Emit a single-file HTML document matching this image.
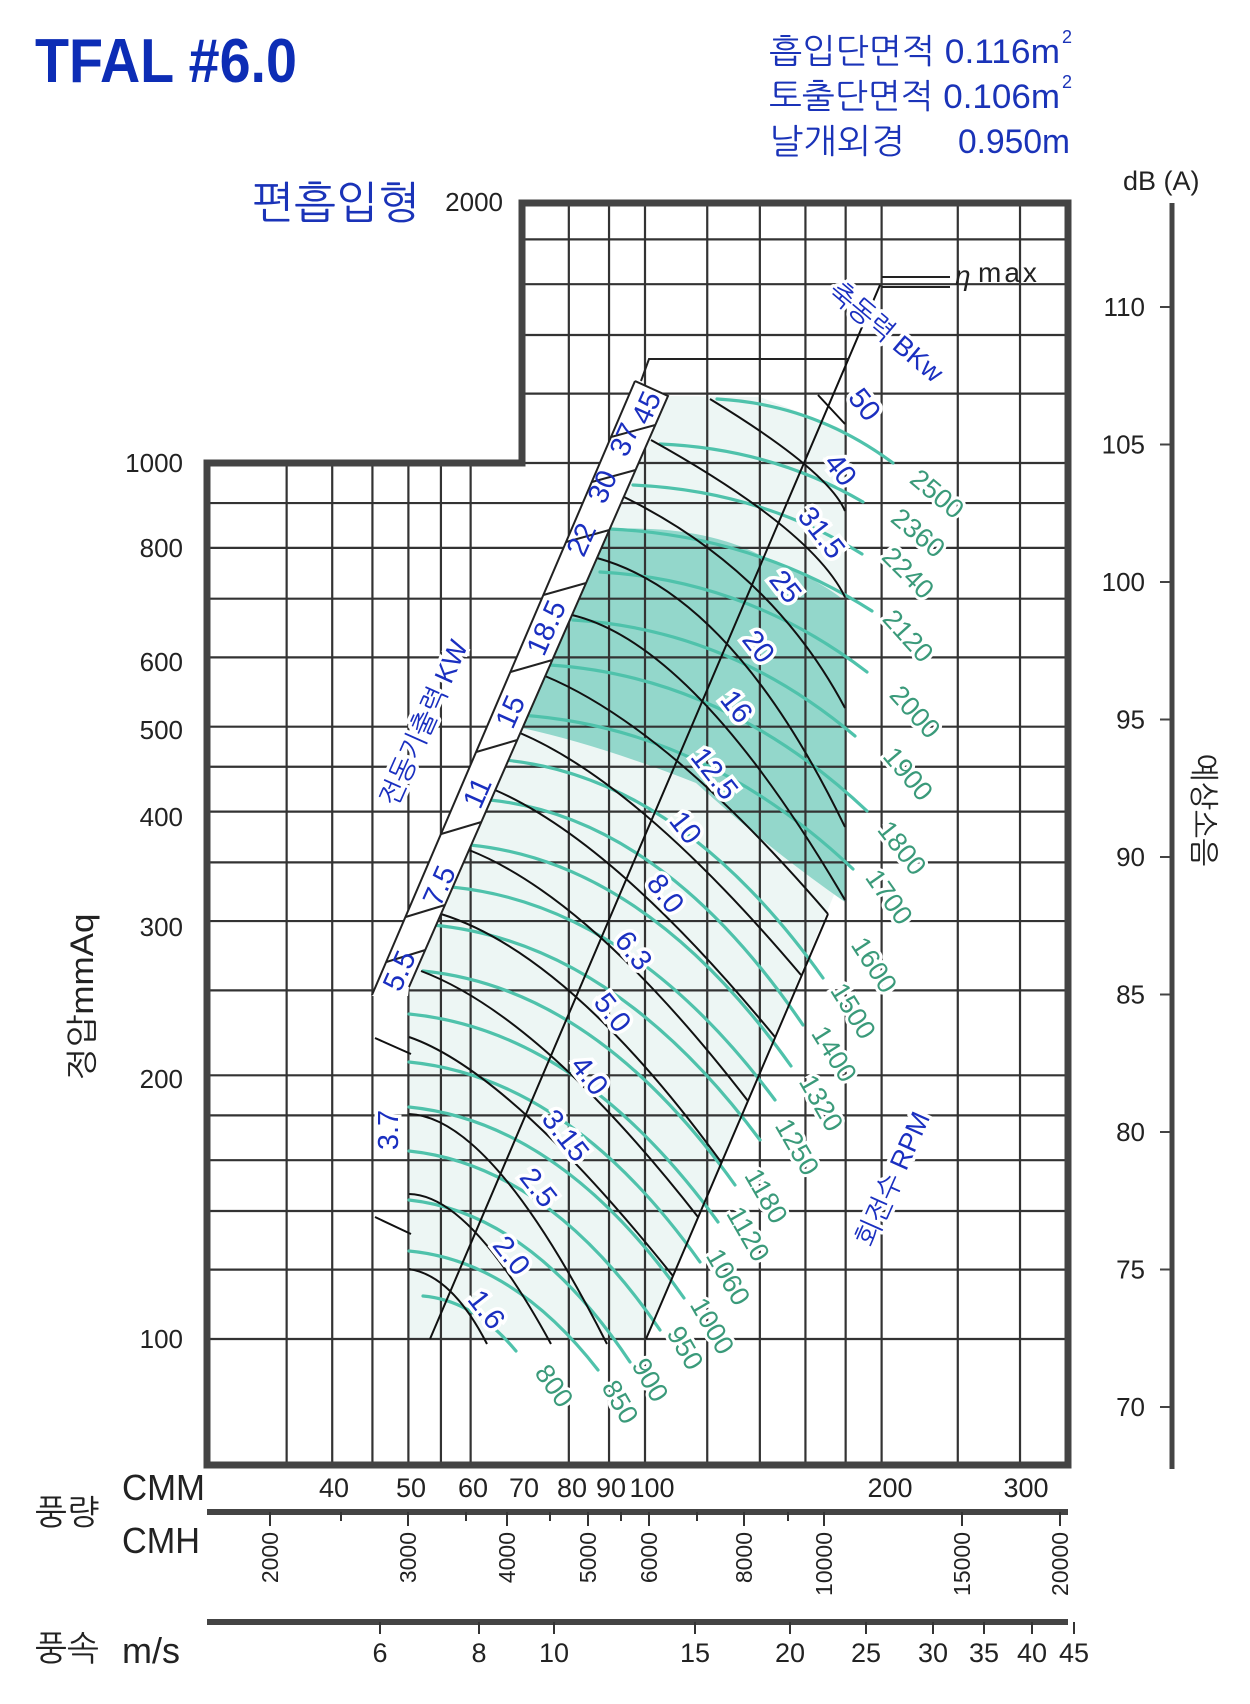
<!DOCTYPE html>
<html><head><meta charset="utf-8"><style>
html,body{margin:0;padding:0;background:#fff;}
svg{display:block;}
text{font-family:"Liberation Sans","NanumGothic","Noto Sans CJK KR",sans-serif;}
</style></head><body>
<svg id="s" width="1250" height="1704" viewBox="0 0 1250 1704" xmlns="http://www.w3.org/2000/svg">
<rect width="1250" height="1704" fill="#fff"/>
<g id="fills"></g>
<g id="grid"></g>
<g id="curves"></g>
<g id="band"></g>
<path d="M207,1465 V463 H522 V203 H1068 V1465 Z" fill="none" stroke="#444" stroke-width="7"/>
<path d="M882,277 H950 M882,287 H950" stroke="#222" stroke-width="2"/>
<text x="955" y="285" font-size="28" fill="#222" font-family="Liberation Serif,serif" font-style="italic">η</text>
<text x="978" y="282" font-size="28" fill="#222" letter-spacing="3">max</text>

<text x="35" y="82" font-size="62" font-weight="bold" fill="#0d2db5" textLength="262" lengthAdjust="spacingAndGlyphs">TFAL #6.0</text>
<text x="769" y="63" font-size="34" fill="#1a33b8" textLength="291" lengthAdjust="spacingAndGlyphs">흡입단면적 0.116m</text>
<text x="1062" y="43" font-size="18" fill="#1a33b8">2</text>
<text x="769" y="108" font-size="34" fill="#1a33b8" textLength="291" lengthAdjust="spacingAndGlyphs">토출단면적 0.106m</text>
<text x="1062" y="88" font-size="18" fill="#1a33b8">2</text>
<text x="769" y="153" font-size="34" fill="#1a33b8" textLength="136" lengthAdjust="spacingAndGlyphs">날개외경</text>
<text x="958" y="153" font-size="34" fill="#1a33b8" textLength="112" lengthAdjust="spacingAndGlyphs">0.950m</text>
<text x="252" y="218" font-size="44" fill="#1a33b8" textLength="168" lengthAdjust="spacingAndGlyphs">편흡입형</text>

<g font-size="26" fill="#222" text-anchor="end">
<text x="503" y="211">2000</text>
<text x="183" y="472">1000</text>
<text x="183" y="557">800</text>
<text x="183" y="671">600</text>
<text x="183" y="739">500</text>
<text x="183" y="826">400</text>
<text x="183" y="936">300</text>
<text x="183" y="1088">200</text>
<text x="183" y="1348">100</text>
</g>
<text transform="translate(82,997) rotate(-90)" text-anchor="middle" dominant-baseline="central" font-size="32" fill="#222" textLength="167" lengthAdjust="spacingAndGlyphs">정압mmAq</text>

<line x1="1172" y1="203" x2="1172" y2="1469" stroke="#444" stroke-width="5"/>
<g id="db" font-size="26" fill="#222" text-anchor="end"></g>
<text x="1123" y="190" font-size="27" fill="#222">dB (A)</text>
<text transform="translate(1203,810) rotate(90)" text-anchor="middle" dominant-baseline="central" font-size="30" fill="#222">예상소음</text>

<line x1="207" y1="1512" x2="1068" y2="1512" stroke="#444" stroke-width="6"/>
<line x1="207" y1="1622" x2="1068" y2="1622" stroke="#444" stroke-width="6"/>
<g font-size="27" fill="#222" text-anchor="middle">
<text x="334" y="1497">40</text><text x="411" y="1497">50</text><text x="473" y="1497">60</text>
<text x="524" y="1497">70</text><text x="572" y="1497">80</text><text x="611" y="1497">90</text>
<text x="652" y="1497">100</text><text x="890" y="1497">200</text><text x="1026" y="1497">300</text>
</g>
<g font-size="23" fill="#222" text-anchor="end">
<text transform="translate(270,1532) rotate(-90)" dominant-baseline="central">2000</text>
<text transform="translate(408,1532) rotate(-90)" dominant-baseline="central">3000</text>
<text transform="translate(507,1532) rotate(-90)" dominant-baseline="central">4000</text>
<text transform="translate(588,1532) rotate(-90)" dominant-baseline="central">5000</text>
<text transform="translate(649,1532) rotate(-90)" dominant-baseline="central">6000</text>
<text transform="translate(744,1532) rotate(-90)" dominant-baseline="central">8000</text>
<text transform="translate(824,1532) rotate(-90)" dominant-baseline="central">10000</text>
<text transform="translate(962,1532) rotate(-90)" dominant-baseline="central">15000</text>
<text transform="translate(1060,1532) rotate(-90)" dominant-baseline="central">20000</text>
</g>
<g font-size="27" fill="#222" text-anchor="middle">
<text x="380" y="1662">6</text><text x="479" y="1662">8</text><text x="554" y="1662">10</text>
<text x="695" y="1662">15</text><text x="790" y="1662">20</text><text x="866" y="1662">25</text>
<text x="933" y="1662">30</text><text x="984" y="1662">35</text><text x="1032" y="1662">40</text><text x="1074" y="1662">45</text>
</g>
<g id="bt"></g>
<text x="122" y="1500" font-size="36" fill="#222" textLength="83" lengthAdjust="spacingAndGlyphs">CMM</text>
<text x="122" y="1553" font-size="36" fill="#222" textLength="78" lengthAdjust="spacingAndGlyphs">CMH</text>
<text x="122" y="1663" font-size="36" fill="#222" textLength="58" lengthAdjust="spacingAndGlyphs">m/s</text>
<text x="67" y="1513" text-anchor="middle" dominant-baseline="central" font-size="34" fill="#222">풍량</text>
<text x="67" y="1649" text-anchor="middle" dominant-baseline="central" font-size="34" fill="#222">풍속</text>

<g font-size="29" fill="#1a2fc0" text-anchor="middle" dominant-baseline="central">
<text transform="translate(400,971) rotate(-66)">5.5</text>
<text transform="translate(440,886) rotate(-66)">7.5</text>
<text transform="translate(478,793) rotate(-66)">11</text>
<text transform="translate(511,712) rotate(-66)">15</text>
<text transform="translate(547,628) rotate(-66)">18.5</text>
<text transform="translate(582,540) rotate(-66)">22</text>
<text transform="translate(603,487) rotate(-66)">30</text>
<text transform="translate(625,440) rotate(-66)">37</text>
<text transform="translate(647,408) rotate(-66)">45</text>
</g>
<g font-size="29" fill="#1a2fc0" text-anchor="middle" dominant-baseline="central" stroke="#fff" stroke-width="7" paint-order="stroke">
<text transform="translate(389,1130) rotate(-90)">3.7</text>
<text transform="translate(424,723) rotate(-66)" font-size="27">전동기출력 KW</text>
<text transform="translate(886,332) rotate(40)" font-size="27">축동력 BKw</text>
<text transform="translate(893,1179) rotate(-66)" font-size="27">회전수 RPM</text>
<text transform="translate(864,405) rotate(52)">50</text>
<text transform="translate(840,470) rotate(52)">40</text>
<text transform="translate(821,533) rotate(52)">31.5</text>
<text transform="translate(785,587) rotate(52)">25</text>
<text transform="translate(758,647) rotate(52)">20</text>
<text transform="translate(736,707) rotate(52)">16</text>
<text transform="translate(714,774) rotate(52)">12.5</text>
<text transform="translate(685,828) rotate(52)">10</text>
<text transform="translate(665,894) rotate(52)">8.0</text>
<text transform="translate(633,951) rotate(52)">6.3</text>
<text transform="translate(612,1013) rotate(52)">5.0</text>
<text transform="translate(589,1076) rotate(52)">4.0</text>
<text transform="translate(565,1136) rotate(52)">3.15</text>
<text transform="translate(538,1188) rotate(52)">2.5</text>
<text transform="translate(511,1256) rotate(52)">2.0</text>
<text transform="translate(486,1310) rotate(52)">1.6</text>
</g>
<g font-size="27" fill="#3a9a7a" text-anchor="middle" dominant-baseline="central" stroke="#fff" stroke-width="6" paint-order="stroke">
<text transform="translate(937,494) rotate(40)">2500</text>
<text transform="translate(918,533) rotate(40)">2360</text>
<text transform="translate(908,573) rotate(45)">2240</text>
<text transform="translate(908,636) rotate(48)">2120</text>
<text transform="translate(915,712) rotate(48)">2000</text>
<text transform="translate(908,774) rotate(50)">1900</text>
<text transform="translate(902,848) rotate(52)">1800</text>
<text transform="translate(889,897) rotate(55)">1700</text>
<text transform="translate(874,965) rotate(57)">1600</text>
<text transform="translate(853,1011) rotate(58)">1500</text>
<text transform="translate(834,1054) rotate(58)">1400</text>
<text transform="translate(821,1103) rotate(60)">1320</text>
<text transform="translate(797,1147) rotate(60)">1250</text>
<text transform="translate(766,1196) rotate(60)">1180</text>
<text transform="translate(748,1234) rotate(60)">1120</text>
<text transform="translate(728,1277) rotate(60)">1060</text>
<text transform="translate(712,1326) rotate(60)">1000</text>
<text transform="translate(685,1348) rotate(60)">950</text>
<text transform="translate(650,1380) rotate(60)">900</text>
<text transform="translate(620,1402) rotate(60)">850</text>
<text transform="translate(554,1386) rotate(55)">800</text>
</g>
</svg>
<script>
(function(){
var NS="http://www.w3.org/2000/svg";
function el(p,t,a){var e=document.createElementNS(NS,t);for(var k in a)e.setAttribute(k,a[k]);p.appendChild(e);return e;}
var X=function(q){return 645+786*Math.log10(q/100);};
var Y=function(p){return 463+876*Math.log10(1000/p);};
var grid=document.getElementById('grid'),fills=document.getElementById('fills'),cur=document.getElementById('curves'),band=document.getElementById('band');
var d="";
[35,40,45,50,55,60].forEach(function(q){var x=X(q);d+="M"+x+",463V1465";});
[80,90,100,120,140,160,180,200,250,300].forEach(function(q){var x=X(q);d+="M"+x+",203V1465";});
[900,800,700,600,500,450,400,350,300,250,200,180,160,140,120,100].forEach(function(p){d+="M207,"+Y(p)+"H1068";});
[1800,1600,1400,1200,1000].forEach(function(p){d+="M522,"+Y(p)+"H1068";});
el(grid,'path',{d:d,stroke:'#333','stroke-width':2.2,fill:'none'});
el(fills,'path',{d:"M409,1339 L646,1339 L845,869 L845,430 L760,397 L668,396 L409,987 Z",fill:'#edf6f4'});
el(fills,'path',{d:"M610,529 Q700,525 760,555 Q820,580 845,601 L845,902 Q770,850 696,783 Q600,745 522,728 Z",fill:'#93d7cb'});
el(band,'path',{d:"M635,381 L668,396 L409,987 L408,996 L372,996 Z",fill:'#fff',stroke:'none'});
el(band,'path',{d:"M635,381 L668,396 L409,987 M635,381 L372,995 M641,381 L649,359 H849",stroke:'#222','stroke-width':2,fill:'none'});
var tk="";
[950,905,822,740,660,583,530,470,425].forEach(function(y){var xr=668-0.438*(y-396);var y2=y+12;var xl=635-0.428*(y2-381);tk+="M"+xr+","+y+"L"+xl+","+y2;});
el(band,'path',{d:tk,stroke:'#222','stroke-width':2,fill:'none'});
var G=[[717,399,893,463],[660,444,863,502],[633,485,862,554],[610,529,872,611],[600,572,867,672],[573,620,855,736],[550,665,867,811],[520,715,853,869],[505,760,823,978],[490,800,803,1025],[470,845,791,1066],[451,887,775,1100],[433,925,760,1140],[423,971,735,1185],[409,1014,718,1222],[409,1062,700,1262],[409,1107,684,1298],[409,1151,660,1330],[409,1200,630,1362],[409,1251,598,1370],[423,1296,516,1351]];
var gd="";
G.forEach(function(g){var dx=g[2]-g[0],dy=g[3]-g[1];gd+="M"+g[0]+","+g[1]+"Q"+(g[0]+0.55*dx)+","+(g[1]+0.08*dy)+" "+g[2]+","+g[3];});
el(cur,'path',{d:gd,stroke:'#4fc2ab','stroke-width':3.2,fill:'none','stroke-linecap':'round'});
var B=[[818,395,null,null,845,424],[710,399,803,463,845,511],[651,440,780,524,845,597],[624,497,753,586,845,708],[597,558,727,644,845,827],[572,615,702,701,845,900],[545,676,677,761,828,914],[520,733,650,819,801,975],[495,790,625,878,775,1037],[469,850,600,937,748,1101],[441,914,575,996,721,1162],[421,971,550,1055,698,1217],[409,1037,525,1114,673,1276],[409,1114,500,1173,607,1344],[409,1194,475,1232,551,1344],[409,1269,450,1291,487,1344]];
var bd="";
B.forEach(function(b){var cx,cy;if(b[2]===null){cx=(b[0]+b[4])/2;cy=(b[1]+b[5])/2;}else{cx=2*b[2]-(b[0]+b[4])/2;cy=2*b[3]-(b[1]+b[5])/2;}bd+="M"+b[0]+","+b[1]+"Q"+cx+","+cy+" "+b[4]+","+b[5];});
bd+="M375,1038L411,1054M375,1217L411,1234";
bd+="M430,1339L880,285M646,1339L828,914";
el(cur,'path',{d:bd,stroke:'#111','stroke-width':2,fill:'none'});
var db=document.getElementById('db');var dt="";
for(var i=0;i<9;i++){var v=110-5*i,y=307+137.5*i;dt+="M1160,"+y+"H1172";var t=el(db,'text',{x:1145,y:y+9});t.textContent=v;}
el(db,'path',{d:dt,stroke:'#444','stroke-width':2});
var bt=document.getElementById('bt');var bb="";
[270,408,507,588,649,744,824,962,1060].forEach(function(x){bb+="M"+x+",1512V1526";});
[341,466,550,621,697,788].forEach(function(x){bb+="M"+x+",1512V1521";});
[380,479,554,695,790,866,933,984,1032,1074].forEach(function(x){bb+="M"+x+",1622V1634";});
el(bt,'path',{d:bb,stroke:'#333','stroke-width':2});
})();
</script>
</body></html>
